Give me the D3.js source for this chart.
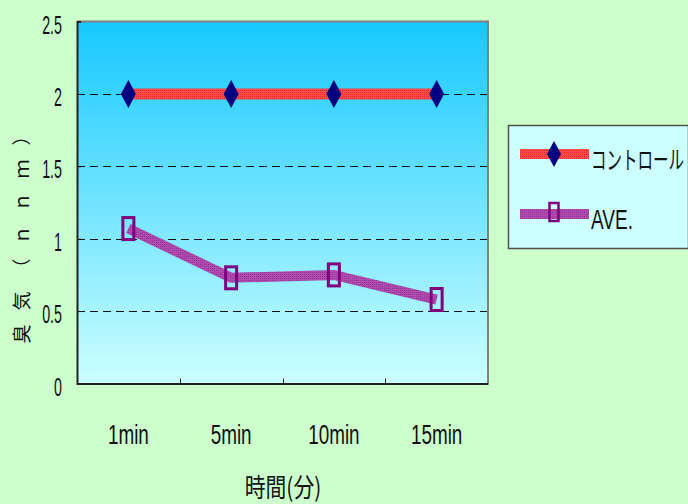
<!DOCTYPE html>
<html>
<head>
<meta charset="utf-8">
<script src="https://cdn.jsdelivr.net/npm/d3@7"></script>
<style>
  html, body { margin: 0; padding: 0; background: #ccffcc; }
  svg { display: block; }
</style>
</head>
<body>
<div id="chart"></div>
<script>
// Categories (elapsed time) and the two measured series
const categories = ["1min", "5min", "10min", "15min"];
const controlValues = [2, 2, 2, 2];
const aveValues = [1.07, 0.73, 0.75, 0.58];
const yTicks = [0, 0.5, 1, 1.5, 2, 2.5];
const gridValues = [0.5, 1, 1.5, 2];
const seriesNames = ["コントロール", "AVE."];
const yTitle = "臭気（ｎｎｍ）";
const xTitle = "時間(分)";

const W = 688, H = 504;
const plot = { left: 77, right: 488, top: 21.5, bottom: 383.5 };

const svg = d3.select("#chart").append("svg")
  .attr("width", W).attr("height", H);

const defs = svg.append("defs");

// Plot-area sky gradient
const grad = defs.append("linearGradient")
  .attr("id", "sky").attr("x1", 0).attr("y1", 0).attr("x2", 0).attr("y2", 1);
grad.append("stop").attr("offset", "0%").attr("stop-color", "#16c8ff");
grad.append("stop").attr("offset", "100%").attr("stop-color", "#ccffff");

// Fine dotted textures for the thick series lines
function texture(id, base, dot) {
  const p = defs.append("pattern").attr("id", id)
    .attr("patternUnits", "userSpaceOnUse").attr("width", 2).attr("height", 2);
  p.append("rect").attr("width", 2).attr("height", 2).attr("fill", base);
  p.append("rect").attr("width", 1).attr("height", 1).attr("fill", dot);
}
texture("redTex", "#ff4a4a", "#e82a2a");
texture("purpleTex", "#b04cb0", "#943494");

const x = d3.scaleBand().domain(categories).range([plot.left, plot.right]);
const y = d3.scaleLinear().domain([0, 2.5]).range([plot.bottom, plot.top]);
const cx = c => x(c) + x.bandwidth() / 2;

// Background of the plot area
svg.append("rect")
  .attr("x", plot.left).attr("y", plot.top)
  .attr("width", plot.right - plot.left).attr("height", plot.bottom - plot.top)
  .attr("fill", "url(#sky)");

// Dashed gridlines
svg.append("g").selectAll("line").data(gridValues).join("line")
  .attr("x1", plot.left).attr("x2", plot.right)
  .attr("y1", d => Math.round(y(d)) + 0.5).attr("y2", d => Math.round(y(d)) + 0.5)
  .attr("stroke", "#111").attr("stroke-width", 1.2)
  .attr("stroke-dasharray", "8,5");

// Frame: grey top/right edges, dark axis lines left/bottom
svg.append("line").attr("x1", plot.left).attr("x2", plot.right + 1)
  .attr("y1", plot.top).attr("y2", plot.top)
  .attr("stroke", "#808080").attr("stroke-width", 2);
svg.append("line").attr("x1", plot.right).attr("x2", plot.right)
  .attr("y1", plot.top).attr("y2", plot.bottom)
  .attr("stroke", "#808080").attr("stroke-width", 2);

// Y axis
const yAxis = svg.append("g")
  .attr("transform", `translate(${plot.left},0)`)
  .call(d3.axisLeft(y).tickValues(yTicks).tickSize(-4).tickFormat(d3.format("")).tickPadding(0));
yAxis.select(".domain").attr("stroke", "#222").attr("stroke-width", 2);
yAxis.selectAll(".tick line").attr("stroke", "#222");
yAxis.selectAll(".tick text").remove();

// Y tick labels (narrow numerals)
svg.append("g").selectAll("text").data(yTicks).join("text")
  .attr("transform", d => `translate(62,${y(d) + 12}) scale(0.55,1)`)
  .attr("text-anchor", "end")
  .attr("font-family", "Liberation Sans, Arial, sans-serif")
  .attr("font-size", 26)
  .attr("fill", "#111")
  .text(d => d);

// X axis
const xAxis = svg.append("g")
  .attr("transform", `translate(0,${plot.bottom})`)
  .call(d3.axisBottom(x).tickSize(0).tickFormat(""));
xAxis.select(".domain").attr("stroke", "#222").attr("stroke-width", 2);
// Category separator ticks pointing into the plot
svg.append("g").selectAll("line").data(categories.slice(1)).join("line")
  .attr("x1", d => Math.round(x(d)) + 0.5).attr("x2", d => Math.round(x(d)) + 0.5)
  .attr("y1", plot.bottom).attr("y2", plot.bottom - 5)
  .attr("stroke", "#222").attr("stroke-width", 1);

// X category labels
svg.append("g").selectAll("text").data(categories).join("text")
  .attr("transform", d => `translate(${cx(d)},444) scale(0.7,1)`)
  .attr("text-anchor", "middle")
  .attr("font-family", "Liberation Sans, Arial, sans-serif")
  .attr("font-size", 27)
  .attr("fill", "#111")
  .text(d => d);

// Axis titles
svg.append("text")
  .attr("transform", `translate(283,497) scale(0.8,1)`)
  .attr("text-anchor", "middle")
  .attr("font-family", "Noto Sans CJK JP, sans-serif")
  .attr("font-size", 26)
  .attr("fill", "#111")
  .text(xTitle);

svg.append("text")
  .attr("transform", `translate(29,228) rotate(-90)`)
  .attr("text-anchor", "middle")
  .attr("font-family", "Noto Sans CJK JP, sans-serif")
  .attr("font-size", 19)
  .attr("letter-spacing", 14)
  .attr("fill", "#111")
  .text(yTitle);

// Series lines
const line = d3.line().x(d => cx(d.c)).y(d => y(d.v));
const controlPts = categories.map((c, i) => ({ c, v: controlValues[i] }));
const avePts = categories.map((c, i) => ({ c, v: aveValues[i] }));

svg.append("path").datum(controlPts)
  .attr("d", line).attr("fill", "none")
  .attr("stroke", "url(#redTex)").attr("stroke-width", 11);
svg.append("path").datum(avePts)
  .attr("d", line).attr("fill", "none")
  .attr("stroke", "url(#purpleTex)").attr("stroke-width", 10);

// Markers
const diamond = (w, h) => `M0,${-h / 2}L${w / 2},0L0,${h / 2}L${-w / 2},0Z`;
svg.append("g").selectAll("path").data(controlPts).join("path")
  .attr("transform", d => `translate(${cx(d.c)},${y(d.v)})`)
  .attr("d", diamond(15, 28))
  .attr("fill", "#000080");

svg.append("g").selectAll("rect").data(avePts).join("rect")
  .attr("x", d => cx(d.c) - 5.5).attr("y", d => y(d.v) - 11)
  .attr("width", 11).attr("height", 22)
  .attr("fill", "none").attr("stroke", "#800080").attr("stroke-width", 3);

// Legend
const lg = svg.append("g");
lg.append("rect").attr("x", 508.5).attr("y", 125.5).attr("width", 180).attr("height", 123)
  .attr("fill", "#ccffff").attr("stroke", "#505050").attr("stroke-width", 1.5);
const legendRows = [
  { name: seriesNames[0], y: 154, stroke: "url(#redTex)", w: 10 },
  { name: seriesNames[1], y: 214, stroke: "url(#purpleTex)", w: 10 }
];
lg.selectAll("line.l").data(legendRows).join("line")
  .attr("x1", 520).attr("x2", 589)
  .attr("y1", d => d.y).attr("y2", d => d.y)
  .attr("stroke", d => d.stroke).attr("stroke-width", d => d.w);
lg.append("path").attr("transform", "translate(554,154)")
  .attr("d", diamond(14, 26)).attr("fill", "#000080");
lg.append("rect").attr("x", 549.5).attr("y", 203).attr("width", 9).attr("height", 18)
  .attr("fill", "none").attr("stroke", "#800080").attr("stroke-width", 2.5);
lg.append("text")
  .attr("transform", "translate(591,169) scale(0.62,1)")
  .attr("font-family", "Noto Sans CJK JP, sans-serif")
  .attr("font-size", 25).attr("fill", "#111")
  .text(seriesNames[0]);
lg.append("text")
  .attr("transform", "translate(591,229) scale(0.68,1)")
  .attr("font-family", "Liberation Sans, Arial, sans-serif")
  .attr("font-size", 28).attr("fill", "#111")
  .text(seriesNames[1]);
</script>
</body>
</html>
